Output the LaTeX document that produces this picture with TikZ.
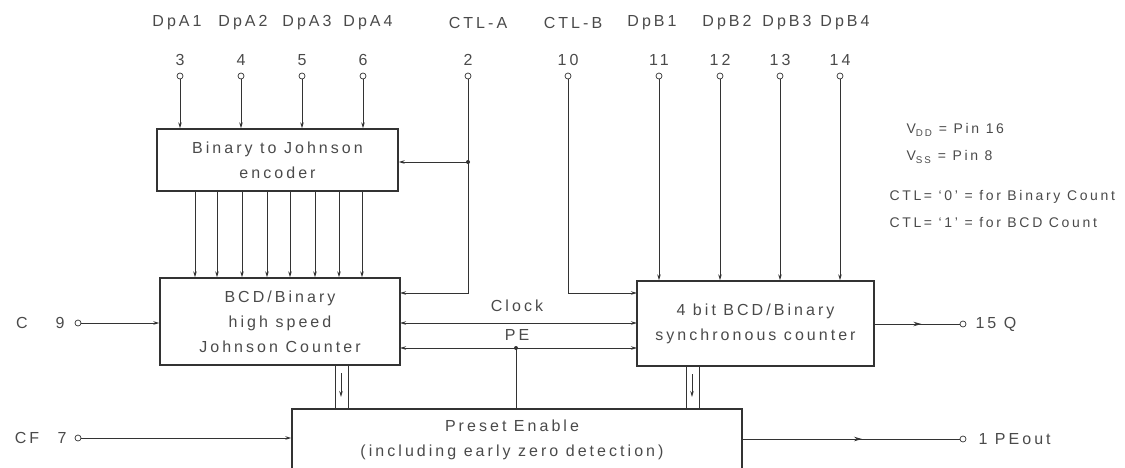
\documentclass[tikz,border=0pt]{standalone}
\usepackage{fontspec}
\setmainfont{Liberation Sans}[LetterSpace=19]
\usetikzlibrary{arrows.meta,decorations.markings}
\definecolor{ink}{HTML}{333333}
\definecolor{txt}{HTML}{4A4A4A}
\begin{document}
\begin{tikzpicture}[x=1pt,y=-1pt,
  every node/.style={text=txt, font=\fontsize{16}{25}\selectfont},
  small/.style={font=\fontsize{14}{16}\selectfont},
  blk/.style={draw=ink, line width=1.4pt, rectangle, inner sep=0pt, align=center},
  pin/.style={circle, draw=ink, line width=0.7pt, inner sep=0pt, minimum size=6pt, fill=white},
  sig/.style={draw=ink, line width=0.9pt},
  arr/.style={sig, -{Stealth[length=6pt,width=3.5pt]}},
  biarr/.style={sig, {Stealth[length=6pt,width=3.5pt]}-{Stealth[length=6pt,width=3.5pt]}},
  midarr/.style={sig, decoration={markings, mark=at position 0.55 with {\arrow{Stealth[length=8pt,width=4.5pt]}}}, postaction={decorate}},
  dot/.style={circle, fill=ink, inner sep=0pt, minimum size=4pt}
]
\useasboundingbox (0,0) rectangle (1125,467);

% blocks
\node[blk, minimum width=241pt, minimum height=62pt] (enc) at (277.5,160) {Binary to Johnson\\encoder};
\node[blk, minimum width=240pt, minimum height=87pt] (jc) at (280,321.5) {BCD/Binary\\high speed\\Johnson Counter};
\node[blk, minimum width=237pt, minimum height=85pt] (sc) at (755.5,323.5) {4 bit BCD/Binary\\synchronous counter};
\node[blk, minimum width=450pt, minimum height=72pt] (pe) at (517,445) {};
\node[align=center] (pet) at (512,440) {Preset Enable\\(including early zero detection)};

% top pins
\foreach \n/\x/\lx/\lab in {3/180/177/DpA1, 4/241/243/DpA2, 5/302/307/DpA3, 6/363/368/DpA4, 2/468/478/CTL-A, 10/568/573/CTL-B, 11/659/652/DpB1, 12/720/727/DpB2, 13/780/787/DpB3, 14/840/845/DpB4}{
  \node[pin] (p\n) at (\x,76) {};
  \node (n\n) at (\x,60) {\n};
  \node (l\n) at (\lx,23) {\lab};
}
\foreach \n in {3,4,5,6}{\draw[arr] (p\n) -- (p\n |- enc.north);}
\foreach \n in {11,12,13,14}{\draw[arr] (p\n) -- (p\n |- sc.north);}

% encoder to Johnson counter
\foreach \i/\x in {1/195,2/217,3/242,4/267,5/290,6/315,7/339,8/362}{
  \coordinate (e\i) at (\x,191);
  \draw[arr] (e\i) -- (e\i |- jc.north);
}

% CTL-A
\coordinate (ja) at (468,162);
\coordinate (jcA) at (400,293);
\draw[arr] (p2) |- (jcA);
\draw[arr] (ja) -- (ja -| enc.east);
\node[dot] (jad) at (ja) {};

% CTL-B
\coordinate (scB) at (637,293);
\draw[arr] (p10) |- (scB);

% Clock and PE
\coordinate (ck1) at (400,323);
\coordinate (ck2) at (637,323);
\draw[biarr] (ck1) -- (ck2);
\node (clk) at (517,306) {Clock};
\coordinate (pe1) at (400,348);
\coordinate (pe2) at (637,348);
\draw[biarr] (pe1) -- (pe2);
\node (pel) at (517,335) {PE};
\coordinate (pej) at (516,348);
\draw[sig] (pe.north -| pej) -- (pej);
\node[dot] (pejd) at (pej) {};

% channels to preset enable
\foreach \x in {335,348,686,699}{
  \coordinate (ch\x) at (\x,0);
  \draw[sig] (ch\x |- jc.south) -- (ch\x |- pe.north);
}
\coordinate (la1) at (341,373);
\coordinate (la2) at (341,397);
\draw[arr] (la1) -- (la2);
\coordinate (ra1) at (692,374);
\coordinate (ra2) at (692,397);
\draw[arr] (ra1) -- (ra2);

% left inputs
\node (cl) at (22,323) {C};
\node (c9n) at (60,323) {9};
\node[pin] (c9) at (78,323) {};
\draw[arr] (c9) -- (c9 -| jc.west);
\node (cfl) at (27,438) {CF};
\node (cf7n) at (62,438) {7};
\node[pin] (cf7) at (78,438) {};
\draw[arr] (cf7) -- (cf7 -| pe.west);

% outputs
\node[pin] (q) at (963,324) {};
\draw[midarr] (sc.east |- q) -- (q);
\node[anchor=west] (ql) at (972,324) {15 Q};
\node[pin] (po) at (963,439) {};
\draw[midarr] (pe.east |- po) -- (po);
\node[anchor=west] (pol) at (975,439) {1 PEout};

% notes
\node[small, anchor=west] (vdd) at (903,130) {V\textsubscript{DD} = Pin 16};
\node[small, anchor=west] (vss) at (903,157) {V\textsubscript{SS} = Pin 8};
\node[small, anchor=west] (ct0) at (886,197) {CTL= ‘0’ = for Binary Count};
\node[small, anchor=west] (ct1) at (886,222) {CTL= ‘1’ = for BCD Count};
\end{tikzpicture}
\end{document}
